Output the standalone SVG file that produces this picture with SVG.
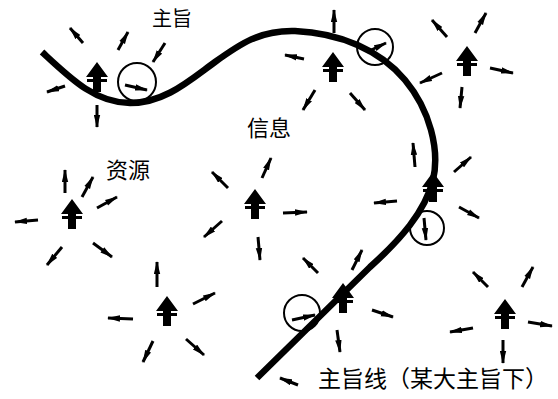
<svg xmlns="http://www.w3.org/2000/svg" width="558" height="399" viewBox="0 0 558 399">
<style>
.lbl{font-family:"Noto Sans CJK SC","Noto Sans",sans-serif;fill:#000}
.a{stroke:#000;stroke-width:3;fill:none;marker-end:url(#h)}
.ring{fill:none;stroke:#000;stroke-width:2}
.big{fill:#000}
</style>
<defs>
<marker id="h" viewBox="0 0 13 7" refX="12" refY="3.5" markerWidth="13" markerHeight="7" markerUnits="userSpaceOnUse" orient="auto">
<path d="M0,0.3 L13,3.5 L0,6.7 Z" fill="#000"/>
</marker>
<path id="big" d="M0,0 L11,15 L4,15 L4,17 L10,17 L10,20 L4,20 L4,30 L-4,30 L-4,20 L-10,20 L-10,17 L-4,17 L-4,15 L-11,15 Z"/>
</defs>
<rect width="558" height="399" fill="#fff"/>

<g id="main-line">
<path d="M42,52 C70,78 95,103 130,103 C165,103 190,80 215,62 C240,44 260,30 295,31 C340,33 380,50 405,80 C430,110 440,150 433,180 C425,212 400,240 370,267 L257,378" fill="none" stroke="#000" stroke-width="6.5"/>
</g>

<g id="labels">
<text class="lbl" x="152" y="26" font-size="20">主旨</text>
<text class="lbl" x="247" y="136" font-size="22">信息</text>
<text class="lbl" x="106" y="178" font-size="22">资源</text>
<text class="lbl" x="318" y="387" font-size="23">主旨线（某大主旨下）</text>
</g>

<g id="cluster1">
<use href="#big" class="big" x="97" y="62"/>
<circle class="ring" cx="137" cy="82" r="19"/>
<line class="a" x1="83" y1="43" x2="70" y2="28"/>
<line class="a" x1="118" y1="50" x2="128" y2="32"/>
<line class="a" x1="165" y1="43" x2="153" y2="62"/>
<line class="a" x1="125" y1="85" x2="147" y2="90"/>
<line class="a" x1="65" y1="86" x2="47" y2="92"/>
<line class="a" x1="97" y1="105" x2="97" y2="127"/>
</g>

<g id="cluster2">
<use href="#big" class="big" x="333" y="52"/>
<circle class="ring" cx="375" cy="47" r="18"/>
<line class="a" x1="334" y1="33" x2="334" y2="10"/>
<line class="a" x1="304" y1="59" x2="285" y2="55"/>
<line class="a" x1="315" y1="90" x2="303" y2="110"/>
<line class="a" x1="350" y1="93" x2="365" y2="110"/>
<line class="a" x1="367" y1="52" x2="386" y2="43"/>
</g>

<g id="cluster3">
<use href="#big" class="big" x="467" y="46"/>
<line class="a" x1="447" y1="37" x2="432" y2="20"/>
<line class="a" x1="475" y1="33" x2="486" y2="13"/>
<line class="a" x1="490" y1="68" x2="513" y2="73"/>
<line class="a" x1="442" y1="73" x2="420" y2="83"/>
<line class="a" x1="462" y1="87" x2="460" y2="108"/>
</g>

<g id="cluster4">
<use href="#big" class="big" x="72" y="199"/>
<line class="a" x1="65" y1="193" x2="65" y2="170"/>
<line class="a" x1="82" y1="197" x2="93" y2="177"/>
<line class="a" x1="97" y1="208" x2="117" y2="197"/>
<line class="a" x1="38" y1="220" x2="15" y2="222"/>
<line class="a" x1="62" y1="247" x2="47" y2="265"/>
<line class="a" x1="93" y1="243" x2="112" y2="257"/>
</g>

<g id="cluster5">
<use href="#big" class="big" x="255" y="189"/>
<line class="a" x1="228" y1="188" x2="212" y2="172"/>
<line class="a" x1="262" y1="178" x2="271" y2="158"/>
<line class="a" x1="283" y1="213" x2="307" y2="212"/>
<line class="a" x1="222" y1="221" x2="204" y2="237"/>
<line class="a" x1="258" y1="237" x2="260" y2="260"/>
</g>

<g id="cluster6">
<use href="#big" class="big" x="433" y="172"/>
<circle class="ring" cx="427" cy="228" r="17"/>
<line class="a" x1="415" y1="167" x2="413" y2="143"/>
<line class="a" x1="454" y1="172" x2="471" y2="157"/>
<line class="a" x1="397" y1="201" x2="374" y2="203"/>
<line class="a" x1="459" y1="207" x2="479" y2="218"/>
<line class="a" x1="424" y1="218" x2="426" y2="240"/>
</g>

<g id="cluster7">
<use href="#big" class="big" x="167" y="296"/>
<line class="a" x1="157" y1="287" x2="157" y2="262"/>
<line class="a" x1="193" y1="304" x2="215" y2="293"/>
<line class="a" x1="133" y1="319" x2="108" y2="318"/>
<line class="a" x1="153" y1="341" x2="143" y2="362"/>
<line class="a" x1="186" y1="339" x2="204" y2="355"/>
</g>

<g id="cluster8">
<use href="#big" class="big" x="343" y="283"/>
<circle class="ring" cx="302" cy="313" r="18"/>
<line class="a" x1="318" y1="273" x2="303" y2="258"/>
<line class="a" x1="352" y1="270" x2="362" y2="250"/>
<line class="a" x1="372" y1="310" x2="393" y2="317"/>
<line class="a" x1="337" y1="330" x2="340" y2="352"/>
<line class="a" x1="292" y1="320" x2="315" y2="315"/>
<line class="a" x1="298" y1="385" x2="280" y2="378"/>
</g>

<g id="cluster9">
<use href="#big" class="big" x="505" y="299"/>
<line class="a" x1="488" y1="287" x2="473" y2="272"/>
<line class="a" x1="522" y1="287" x2="533" y2="267"/>
<line class="a" x1="528" y1="322" x2="552" y2="326"/>
<line class="a" x1="473" y1="328" x2="450" y2="332"/>
<line class="a" x1="503" y1="340" x2="503" y2="363"/>
</g>
</svg>
